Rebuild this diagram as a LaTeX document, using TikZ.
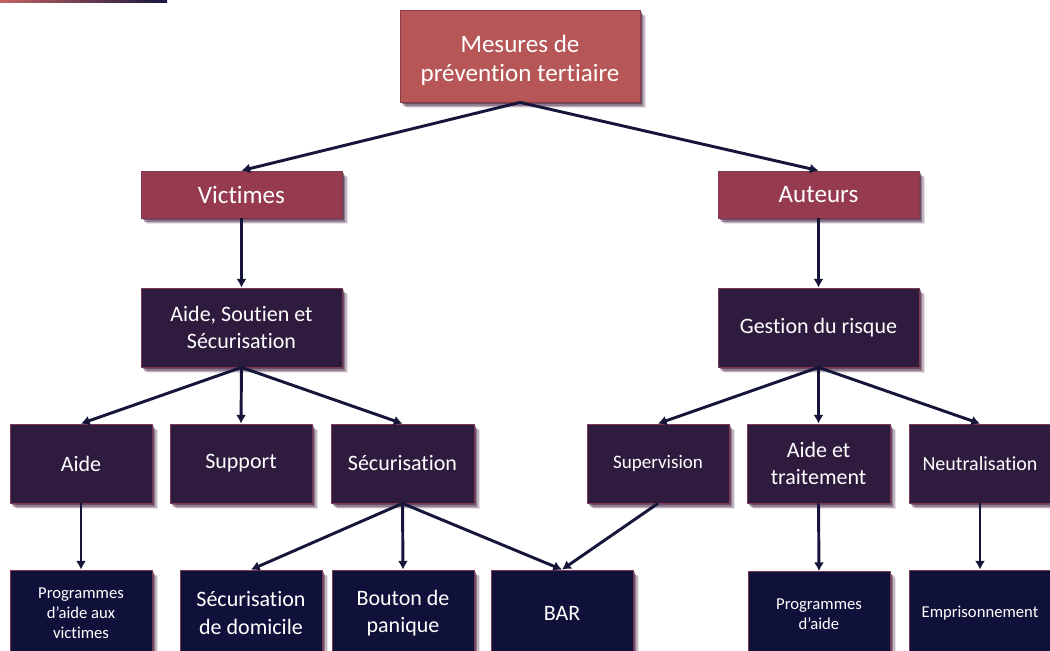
\documentclass[tikz,border=0pt]{standalone}
\usepackage{fontspec}
\setmainfont{Carlito}[Ligatures={NoCommon}]
\usetikzlibrary{arrows.meta,shadows}
\definecolor{topc}{HTML}{B75656}
\definecolor{topedge}{HTML}{8C3C48}
\definecolor{midc}{HTML}{963A50}
\definecolor{purc}{HTML}{2E1B3E}
\definecolor{navc}{HTML}{10113A}
\definecolor{edgec}{HTML}{7E3A55}
\definecolor{shc}{HTML}{4A2545}
\definecolor{arrc}{HTML}{15163A}
\definecolor{barl}{HTML}{C46262}
\definecolor{barr}{HTML}{16173F}
\tikzset{
  tbox/.style 2 args={draw=edgec, line width=0.6pt, text=white, align=center,
    inner sep=0pt, minimum width=#1*0.75pt, minimum height=#2*0.75pt,
    general shadow={shadow xshift=4.2pt, shadow yshift=-4.6pt, fill=shc, opacity=0.12},
    general shadow={shadow xshift=3.4pt, shadow yshift=-3.7pt, fill=shc, opacity=0.25},
    general shadow={shadow xshift=2.6pt, shadow yshift=-2.8pt, fill=shc, opacity=0.4},
    general shadow={shadow xshift=1.6pt, shadow yshift=-1.8pt, fill=shc, opacity=0.55}},
  lvl0/.style={fill=topc, draw=topedge},
  lvl1/.style={fill=midc},
  lvl2/.style={fill=purc},
  lvl3/.style={fill=navc},
  arr/.style={draw=arrc, line width=2.2pt, -{Latex[length=6.5pt,width=7.5pt]}},
  fA/.style={font=\fontsize{18.8}{22}\selectfont},
  fB/.style={font=\fontsize{16.5}{20.3}\selectfont},
  fC/.style={font=\fontsize{12.5}{15}\selectfont},
}
\begin{document}
\begin{tikzpicture}[x=0.75pt,y=-0.75pt]
\clip (0,0) rectangle (1050,650);
\fill[white] (0,0) rectangle (1050,650);
\shade[left color=barl, right color=barr] (0,0) rectangle (167,2.5);

% level 0
\node[tbox={240}{92}, lvl0,
  label={[name=toplbl, fA, text=white, align=center, yshift=-3pt]center:Mesures de\\prévention tertiaire}] (top) at (520,56) {};
% level 1
\node[tbox={201}{47}, lvl1, fA] (vict) at (241.5,194.5) {Victimes};
\node[tbox={201}{47}, lvl1, fA] (aut) at (818.5,194.5) {Auteurs};
% level 2
\node[tbox={201}{79}, lvl2, fB] (ass) at (241.5,327.5) {Aide, Soutien et\\Sécurisation};
\node[tbox={201}{79}, lvl2, fB] (gest) at (818.5,327.5) {Gestion du risque};
% level 3
\node[tbox={142}{79}, lvl2, fB] (aide) at (81,463.5) {Aide};
\node[tbox={142}{79}, lvl2, fB] (supp) at (241,463.5) {Support};
\node[tbox={143}{79}, lvl2, fB] (secu) at (402.5,463.5) {Sécurisation};
\node[tbox={142}{79}, lvl2, font=\fontsize{14.3}{17}\selectfont] (superv) at (658,463.5) {Supervision};
\node[tbox={143}{79}, lvl2, fB] (aidet) at (818.5,463.5) {Aide et\\traitement};
\node[tbox={142}{79}, lvl2, font=\fontsize{15}{18}\selectfont] (neut) at (980,463.5) {Neutralisation};
% level 4
\node[tbox={142}{86}, lvl3, fC] (progv) at (81,613) {Programmes\\d’aide aux\\victimes};
\node[tbox={142}{86}, lvl3, fB] (secdom) at (251,613) {Sécurisation\\de domicile};
\node[tbox={142}{86}, lvl3, fB] (bouton) at (403,613) {Bouton de\\panique};
\node[tbox={142}{86}, lvl3, fB] (bar) at (562,613) {BAR};
\node[tbox={142}{86}, lvl3, fC] (proga) at (819,614.5) {Programmes\\d’aide};
\node[tbox={142}{86}, lvl3, fC] (empr) at (980,613) {Emprisonnement};

% connectors
\draw[arr] (top.south) -- (vict.north);
\draw[arr] (top.south) -- (aut.north);
\draw[arr] (vict.south) -- (ass.north);
\draw[arr] (aut.south) -- (gest.north);
\draw[arr] (ass.south) -- (aide.north);
\draw[arr] (ass.south) -- (supp.north);
\draw[arr] (ass.south) -- (secu.north);
\draw[arr] (gest.south) -- (superv.north);
\draw[arr] (gest.south) -- (aidet.north);
\draw[arr] (gest.south) -- (neut.north);
\draw[arr] (aide.south) -- (progv.north);
\draw[arr] (secu.south) -- (secdom.north);
\draw[arr] (secu.south) -- (bouton.north);
\draw[arr] (secu.south) -- (bar.north);
\draw[arr] (superv.south) -- (bar.north);
\draw[arr] (aidet.south) -- (proga.north);
\draw[arr] (neut.south) -- (empr.north);
\end{tikzpicture}
\end{document}
